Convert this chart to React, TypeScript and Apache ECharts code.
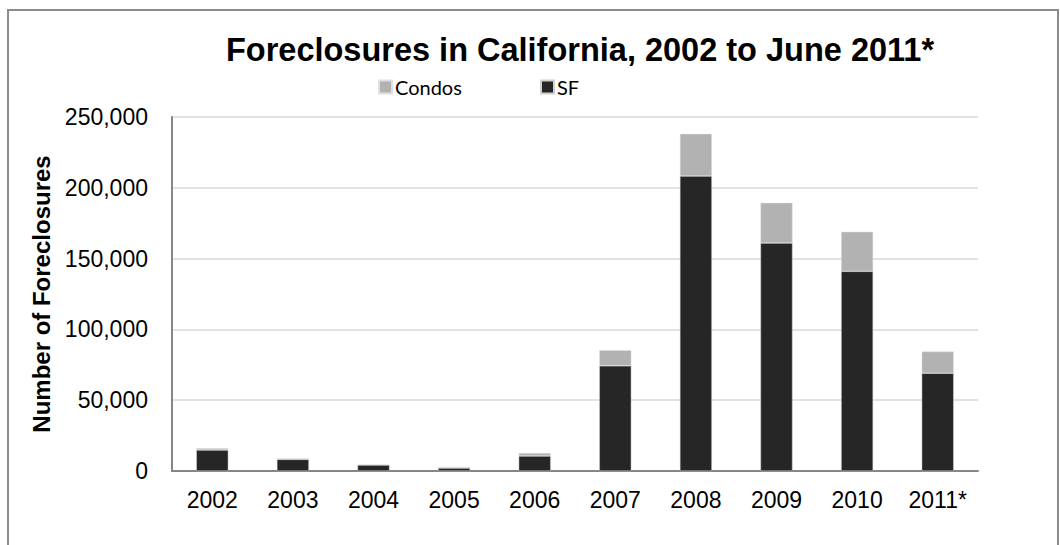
import React, { useEffect, useRef } from "react";
import * as echarts from "echarts";

const years = ["2002", "2003", "2004", "2005", "2006", "2007", "2008", "2009", "2010", "2011*"];
const sfValues = [14800, 8200, 4250, 2100, 10600, 74250, 208300, 161000, 141000, 69100];
const condoValues = [1200, 700, 400, 700, 2100, 11050, 29800, 28400, 28000, 15250];
const yTicks = [0, 50000, 100000, 150000, 200000, 250000];

export default function App() {
  const ref = useRef<HTMLDivElement>(null);
  useEffect(() => {
    if (!ref.current) return;
    const chart = echarts.init(ref.current, undefined, { renderer: "svg" });
    const font = "Liberation Sans, Arial, sans-serif";
    const legendFont = { fontFamily: "Lato, Open Sans, sans-serif", fontSize: 20, color: "#000", padding: [0, 0, 0, -2] };
    chart.setOption({
      animation: false,
      backgroundColor: "transparent",
      title: {
        text: "Foreclosures in California, 2002 to June 2011*",
        left: 575,
        textAlign: "center",
        top: 28,
        textStyle: { fontFamily: font, fontWeight: "bold", fontSize: 32.5, color: "#000" },
      },
      legend: [
        {
          left: 373,
          top: 72,
          itemWidth: 13,
          itemHeight: 13,
          icon: "rect",
          data: ["Condos"],
          textStyle: legendFont,
        },
        {
          left: 535,
          top: 72,
          itemWidth: 13,
          itemHeight: 13,
          icon: "rect",
          data: ["SF"],
          textStyle: legendFont,
        },
      ],
      grid: { left: 172, right: 82, top: 117, bottom: 74, containLabel: false },
      xAxis: {
        type: "category",
        data: years,
        axisLine: { lineStyle: { color: "#868686", width: 2 } },
        axisTick: { show: false },
        axisLabel: { fontFamily: font, fontSize: 23, color: "#000", margin: 17 },
      },
      yAxis: {
        type: "value",
        min: yTicks[0],
        max: yTicks[yTicks.length - 1],
        interval: 50000,
        name: "Number of Foreclosures",
        nameLocation: "middle",
        nameGap: 114,
        nameTextStyle: { fontFamily: font, fontWeight: "bold", fontSize: 24, color: "#000" },
        axisLine: { show: true, lineStyle: { color: "#868686", width: 2 } },
        axisTick: { show: false },
        splitLine: { lineStyle: { color: "#d9d9d9", width: 1.5 } },
        axisLabel: {
          fontFamily: font,
          fontSize: 23,
          color: "#000",
          margin: 24,
          formatter: (v: number) => v.toLocaleString("en-US"),
        },
      },
      series: [
        {
          name: "SF",
          type: "bar",
          stack: "total",
          data: sfValues,
          barWidth: 32,
          itemStyle: { color: "#262626", borderColor: "#d0d0d0", borderWidth: 0.5 },
        },
        {
          name: "Condos",
          type: "bar",
          stack: "total",
          data: condoValues,
          barWidth: 32,
          itemStyle: { color: "#b2b2b2", borderColor: "#e0e0e0", borderWidth: 0.5 },
        },
      ],
    });
    return () => chart.dispose();
  }, []);

  return (
    <div style={{ position: "fixed", left: 0, top: 0, width: 1060, height: 545, overflow: "hidden", background: "#fff" }}>
      <div
        style={{
          position: "absolute",
          left: 7,
          top: 9,
          width: 1052,
          height: 560,
          border: "2px solid #8c8c8c",
          boxSizing: "border-box",
        }}
      />
      <div ref={ref} style={{ position: "absolute", left: 0, top: 0, width: 1060, height: 545 }} />
    </div>
  );
}
